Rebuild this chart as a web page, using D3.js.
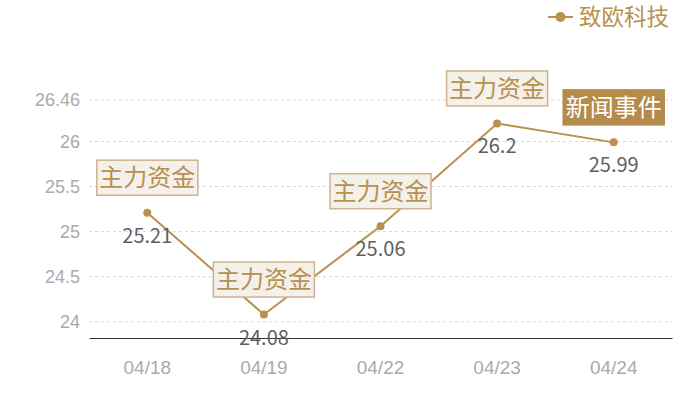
<!DOCTYPE html>
<html><head><meta charset="utf-8">
<script src="https://cdn.jsdelivr.net/npm/d3@7"></script>
<style>body{margin:0;background:#fff;}svg{display:block;font-family:"Noto Sans CJK SC","Noto Sans",sans-serif;}</style>
</head><body>
<script>
const categories = ["04/18","04/19","04/22","04/23","04/24"];
const values = [25.21, 24.08, 25.06, 26.2, 25.99];
const events = ["主力资金","主力资金","主力资金","主力资金","新闻事件"];
const eventTypes = ["fund","fund","fund","fund","news"];
const yTicks = [24, 24.5, 25, 25.5, 26, 26.46];
const seriesName = "致欧科技";
const yMin = 23.82, yMax = 26.46;

const W = 700, H = 400;
const m = {l:89, r:28, t:100, b:62};
const svg = d3.select("body").append("svg").attr("width",W).attr("height",H);

const x = d3.scaleBand().domain(categories).range([m.l, W-m.r]);
const y = d3.scaleLinear().domain([yMin, yMax]).range([H-m.b, m.t]);
const gold = "#b8914f";

// grid
svg.append("g").selectAll("line").data(yTicks).join("line")
  .attr("x1", m.l).attr("x2", W-m.r)
  .attr("y1", d=>y(d)).attr("y2", d=>y(d))
  .attr("stroke","#d6d6d6").attr("stroke-dasharray","3,3").attr("stroke-width",1);

// y axis labels
const yAxis = d3.axisLeft(y).tickValues(yTicks).tickSize(0).tickPadding(9).tickFormat(d=>String(d));
const gy = svg.append("g").attr("transform",`translate(${m.l},0)`).call(yAxis);
gy.select(".domain").remove();
gy.selectAll("text").attr("fill","#aaaaaa").style("font-size","18px");

// x axis
const xAxis = d3.axisBottom(x).tickSize(0).tickPadding(23);
const gx = svg.append("g").attr("transform",`translate(0,${H-m.b})`).call(xAxis);
gx.select(".domain").attr("stroke","#333").attr("stroke-width",1);
gx.selectAll("text").attr("fill","#aaaaaa").style("font-size","19px");

const cx = d => x(d) + x.bandwidth()/2;
const data = categories.map((c,i)=>({c, v:values[i], e:events[i], t:eventTypes[i]}));

// line
svg.append("path").datum(data)
  .attr("d", d3.line().x(d=>cx(d.c)).y(d=>y(d.v)))
  .attr("fill","none").attr("stroke",gold).attr("stroke-width",2);

svg.append("g").selectAll("circle").data(data).join("circle")
  .attr("cx", d=>cx(d.c)).attr("cy", d=>y(d.v)).attr("r",4).attr("fill",gold);

// value labels
svg.append("g").selectAll("text").data(data).join("text")
  .attr("x", d=>cx(d.c)).attr("y", d=>y(d.v)+30)
  .attr("text-anchor","middle").attr("fill","#5f5f5f").style("font-size","20px")
  .text(d=>String(d.v));

// event boxes
const bw = 101, bh = 35;
const eg = svg.append("g").selectAll("g").data(data).join("g")
  .attr("transform", d=>`translate(${cx(d.c)},${y(d.v)-35})`);
eg.append("rect").attr("x",-bw/2).attr("y",-bh/2).attr("width",bw).attr("height",bh)
  .attr("fill", d=>d.t==="news" ? "#b58b4c" : "#f4f0ea")
  .attr("stroke", d=>d.t==="news" ? "#b58b4c" : "#cfb38c").attr("stroke-width",1.5);
eg.append("text").attr("text-anchor","middle").attr("dy","0.36em")
  .attr("fill", d=>d.t==="news" ? "#ffffff" : "#b8914f").style("font-size","24px")
  .text(d=>d.e);

// legend
const lg = svg.append("g").attr("transform","translate(548,17)");
lg.append("line").attr("x1",0).attr("x2",25).attr("stroke",gold).attr("stroke-width",2);
lg.append("circle").attr("cx",12.5).attr("r",5).attr("fill",gold);
lg.append("text").attr("x",31).attr("dy","0.36em").attr("fill",gold).style("font-size","22.5px").text(seriesName);
</script>
</body></html>
